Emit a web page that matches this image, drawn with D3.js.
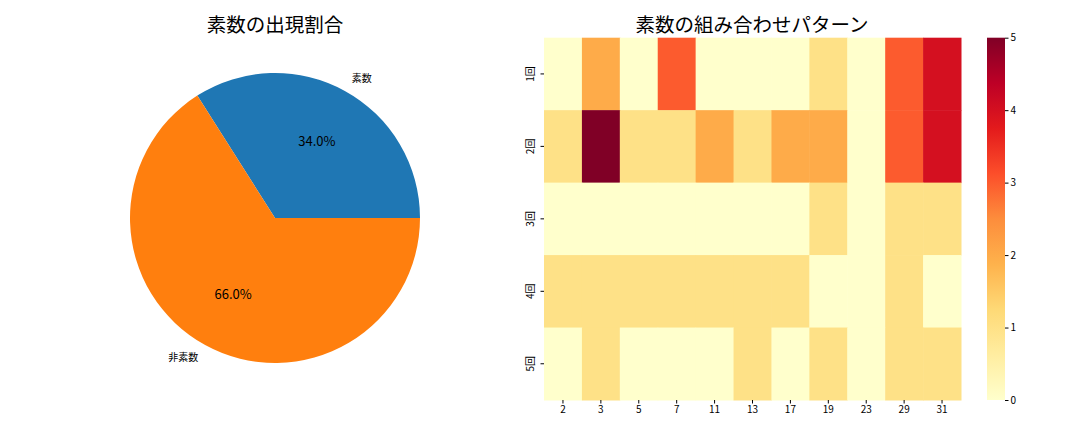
<!DOCTYPE html>
<html>
<head>
<meta charset="utf-8">
<script src="https://cdn.jsdelivr.net/npm/d3@7"></script>
<style>
  body { margin: 0; background: #fff; }
  text { font-family: "Noto Sans CJK JP", "Noto Sans", sans-serif; fill: #000; }
</style>
</head>
<body>
<svg id="chart" width="1080" height="432"></svg>
<script>
// pie data
const pieLabels = ["素数", "非素数"];
const pieValues = [34, 66];
const pieColors = ["#1f77b4", "#ff7f0e"];

// heatmap data: rows = 1回..5回, cols = primes
const primes = ["2", "3", "5", "7", "11", "13", "17", "19", "23", "29", "31"];
const rounds = ["1回", "2回", "3回", "4回", "5回"];
const counts = [
  [0, 2, 0, 3, 0, 0, 0, 1, 0, 3, 4],
  [1, 5, 1, 1, 2, 1, 2, 2, 0, 3, 4],
  [0, 0, 0, 0, 0, 0, 0, 1, 0, 1, 1],
  [1, 1, 1, 1, 1, 1, 1, 0, 0, 1, 0],
  [0, 1, 0, 0, 0, 1, 0, 1, 0, 1, 1]
];
const cbTicks = [0, 1, 2, 3, 4, 5];

// colorbrewer YlOrRd, linear like matplotlib
const ylorrd = ["#ffffcc", "#ffeda0", "#fed976", "#feb24c", "#fd8d3c", "#fc4e2a", "#e31a1c", "#bd0026", "#800026"];

const svg = d3.select("#chart");

// ---------- pie ----------
const cx = 275, cy = 218, r = 145;
const pieG = svg.append("g").attr("transform", `translate(${cx},${cy})`);

// matplotlib starts at 3 o'clock and goes counterclockwise
const pie = d3.pie().sort(null)
  .startAngle(Math.PI / 2)
  .endAngle(Math.PI / 2 - 2 * Math.PI);
const arcs = pie(pieValues);
const arc = d3.arc().innerRadius(0).outerRadius(r);

pieG.selectAll("path")
  .data(arcs)
  .enter()
  .append("path")
    .attr("d", arc)
    .attr("fill", (d, i) => pieColors[i]);

function midPoint(d, k) {
  const a = (d.startAngle + d.endAngle) / 2; // d3 angle, 0 = up, clockwise
  return [k * r * Math.sin(a), -k * r * Math.cos(a)];
}

pieG.selectAll("text.lbl")
  .data(arcs)
  .enter()
  .append("text")
    .attr("class", "lbl")
    .attr("x", d => midPoint(d, 1.1)[0])
    .attr("y", d => midPoint(d, 1.1)[1])
    .attr("dy", "0.35em")
    .attr("text-anchor", d => midPoint(d, 1.1)[0] > 0 ? "start" : "end")
    .style("font-size", "10px")
    .text((d, i) => pieLabels[i]);

pieG.selectAll("text.pct")
  .data(arcs)
  .enter()
  .append("text")
    .attr("class", "pct")
    .attr("x", d => midPoint(d, 0.6)[0])
    .attr("y", d => midPoint(d, 0.6)[1])
    .attr("dy", "0.35em")
    .attr("text-anchor", "middle")
    .style("font-size", "13px")
    .text(d => d.value.toFixed(1) + "%");

svg.append("text")
  .attr("x", cx).attr("y", 32)
  .attr("text-anchor", "middle")
  .style("font-size", "19.5px")
  .text("素数の出現割合");

// ---------- heatmap ----------
const hm = {left: 544, right: 961, top: 37.7, bottom: 400};
const xscale = d3.scaleBand().domain(primes).range([hm.left, hm.right]);
const yscale = d3.scaleBand().domain(rounds).range([hm.top, hm.bottom]);
const cscale = d3.scaleLinear()
  .domain(d3.range(ylorrd.length).map(i => i * 5 / (ylorrd.length - 1)))
  .range(ylorrd)
  .interpolate(d3.interpolateRgb);

const cells = [];
counts.forEach((row, i) => row.forEach((v, j) => cells.push({r: rounds[i], c: primes[j], v: v})));

svg.append("g")
  .selectAll("rect")
  .data(cells)
  .enter()
  .append("rect")
    .attr("x", d => xscale(d.c))
    .attr("y", d => yscale(d.r))
    .attr("width", xscale.bandwidth() + 0.5)
    .attr("height", yscale.bandwidth() + 0.5)
    .attr("fill", d => cscale(d.v));

const xAxis = svg.append("g")
  .attr("transform", `translate(0,${hm.bottom})`)
  .call(d3.axisBottom(xscale).tickSize(3.5).tickPadding(2));
xAxis.select(".domain").remove();
xAxis.selectAll("text").style("font-size", "10px");

const yAxis = svg.append("g")
  .attr("transform", `translate(${hm.left},0)`)
  .call(d3.axisLeft(yscale).tickSize(3.5).tickPadding(2));
yAxis.select(".domain").remove();
yAxis.selectAll("text")
  .style("font-size", "10px")
  .attr("text-anchor", "middle")
  .attr("dy", null)
  .attr("transform", "translate(-10,0) rotate(-90)")
  .attr("x", 0)
  .attr("y", 0);

svg.append("text")
  .attr("x", 752).attr("y", 32)
  .attr("text-anchor", "middle")
  .style("font-size", "19.5px")
  .text("素数の組み合わせパターン");

// ---------- colorbar ----------
const cb = {left: 987, width: 18, top: 37.7, bottom: 400};
const grad = svg.append("defs").append("linearGradient")
  .attr("id", "cbgrad")
  .attr("x1", "0").attr("y1", "1").attr("x2", "0").attr("y2", "0");
grad.selectAll("stop")
  .data(ylorrd)
  .enter()
  .append("stop")
    .attr("offset", (d, i) => i / (ylorrd.length - 1))
    .attr("stop-color", d => d);

svg.append("rect")
  .attr("x", cb.left).attr("y", cb.top)
  .attr("width", cb.width).attr("height", cb.bottom - cb.top)
  .attr("fill", "url(#cbgrad)");

const cbScale = d3.scaleLinear().domain([0, 5]).range([cb.bottom, cb.top]);
const cbAxis = svg.append("g")
  .attr("transform", `translate(${cb.left + cb.width},0)`)
  .call(d3.axisRight(cbScale).tickValues(cbTicks).tickSize(3.5).tickPadding(2).tickFormat(d3.format("d")));
cbAxis.select(".domain").remove();
cbAxis.selectAll("text").style("font-size", "10px");
</script>
</body>
</html>
